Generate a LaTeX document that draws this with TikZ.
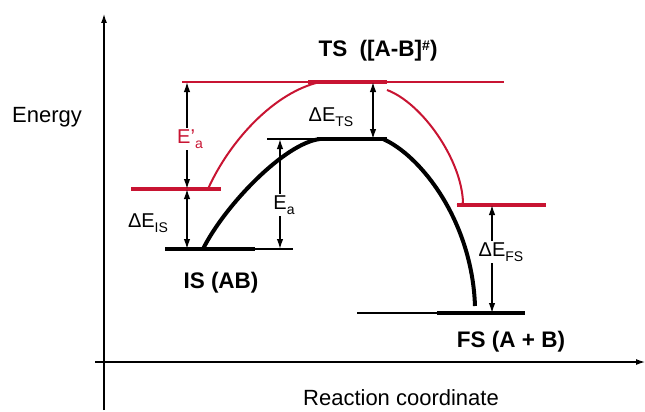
\documentclass[tikz,border=0pt]{standalone}
\usepackage{fontspec}
\setmainfont{Liberation Sans}
\usetikzlibrary{arrows.meta}
\definecolor{lvlred}{RGB}{200,20,50}
\newcommand{\lowtxt}[1]{\raisebox{-4.5pt}{\fontsize{14}{14}\selectfont #1}}
\newcommand{\hightxt}[1]{\raisebox{6pt}{\fontsize{14}{14}\selectfont #1}}

\begin{document}
\begin{tikzpicture}[x=1pt, y=-1pt,
  axlbl/.style={font=\fontsize{22}{24}\selectfont, anchor=base, inner sep=0pt},
  lbl/.style={font=\fontsize{20}{22}\selectfont, inner sep=2pt},
  state/.style={font=\fontsize{22.5}{24}\selectfont\bfseries, anchor=base, inner sep=0pt},
  axis/.style={-{Latex[length=9pt,width=6pt]}, line width=1.2pt},
  thk/.style={line width=4pt},
  thn/.style={line width=1.4pt},
  dim/.style={-{Latex[length=10pt,width=6.5pt]}, line width=1.4pt},
  ddim/.style={{Latex[length=10pt,width=6.5pt]}-{Latex[length=10pt,width=6.5pt]}, line width=1.4pt}]
\useasboundingbox (0,0) rectangle (645,412);
% --- axes ---
\coordinate (ybot) at (104,410);
\coordinate (ytop) at (104,14);
\coordinate (xbeg) at (95,362);
\coordinate (xend) at (645,362);
\draw[axis] (ybot) -- (ytop);
\draw[axis] (xbeg) -- (xend);
\node[axlbl] (elbl) at (47,122) {Energy};
\node[axlbl] (rclbl) at (401,405) {Reaction coordinate};
% --- levels ---
\coordinate (tsr1) at (182,82);  \coordinate (tsr2) at (504,82);
\coordinate (tsr3) at (308,82);  \coordinate (tsr4) at (387,82);
\coordinate (isr1) at (131,189); \coordinate (isr2) at (221,189);
\coordinate (fsr1) at (457,205); \coordinate (fsr2) at (546,205);
\coordinate (tsb1) at (267,139); \coordinate (tsb2) at (317,139);
\coordinate (tsb3) at (387,139);
\coordinate (isb1) at (165,249); \coordinate (isb2) at (255,249);
\coordinate (isb3) at (293,249);
\coordinate (fsb1) at (357,313); \coordinate (fsb2) at (437,313);
\coordinate (fsb3) at (525,313);
\draw[thn, lvlred] (tsr1) -- (tsr2);
\draw[thk, lvlred] (tsr3) -- (tsr4);
\draw[thk, lvlred] (isr1) -- (isr2);
\draw[thk, lvlred] (fsr1) -- (fsr2);
\draw[thn] (tsb1) -- (tsb2);
\draw[thk] (tsb2) -- (tsb3);
\draw[thk] (isb1) -- (isb2);
\draw[thn] (isb2) -- (isb3);
\draw[thn] (fsb1) -- (fsb2);
\draw[thk] (fsb2) -- (fsb3);
% --- curves ---
\coordinate (cb1) at (203,249); \coordinate (cb2) at (320,139);
\coordinate (cb3) at (383,139); \coordinate (cb4) at (475,306);
\coordinate (cr1) at (208,189); \coordinate (cr2) at (320,82);
\coordinate (cr3) at (387,90);  \coordinate (cr4) at (463,203);
\draw[thk] (cb1) .. controls (225,205) and (285,143) .. (cb2);
\draw[thk] (cb3) .. controls (420,155) and (472,220) .. (cb4);
\draw[line width=2pt, lvlred] (cr1) .. controls (230,140) and (275,92) .. (cr2);
\draw[line width=2pt, lvlred] (cr3) .. controls (422,103) and (462,160) .. (cr4);
\draw[thn, lvlred] (cr4) -- (fsr1);
% --- energy gaps ---
\coordinate (epx) at (187,82);
\coordinate (eax) at (280,139);
\coordinate (fsx) at (492,205);
\node[lbl, text=lvlred] (epa) at (190,139) {E'\lowtxt{a}};
\draw[dim] (epx |- epa.north) -- (epx);
\draw[dim] (epx |- epa.south) -- (epx |- isr1);
\node[lbl] (eal) at (284,205) {E\lowtxt{a}};
\draw[dim] (eax |- eal.north) -- (eax);
\draw[dim] (eax |- eal.south) -- (eax |- isb1);
\node[lbl] (efs) at (501,252) {ΔE\lowtxt{FS}};
\draw[dim] (fsx |- efs.north) -- (fsx);
\draw[dim] (fsx |- efs.south) -- (fsx |- fsb1);
\coordinate (isx1) at (187,189); \coordinate (isx2) at (187,249);
\coordinate (tsx1) at (373,82);  \coordinate (tsx2) at (373,139);
\draw[ddim] (isx1) -- (isx2);
\draw[ddim] (tsx1) -- (tsx2);
\node[lbl] (eis) at (148,223) {ΔE\lowtxt{IS}};
\node[lbl] (ets) at (331,117) {ΔE\lowtxt{TS}};
% --- states ---
\node[state] (tslbl) at (378,57) {TS\ \ ([A-B]\hightxt{\#})};
\node[state] (islbl) at (221,288) {IS (AB)};
\node[state] (fslbl) at (511,347) {FS (A + B)};
\end{tikzpicture}
\end{document}
